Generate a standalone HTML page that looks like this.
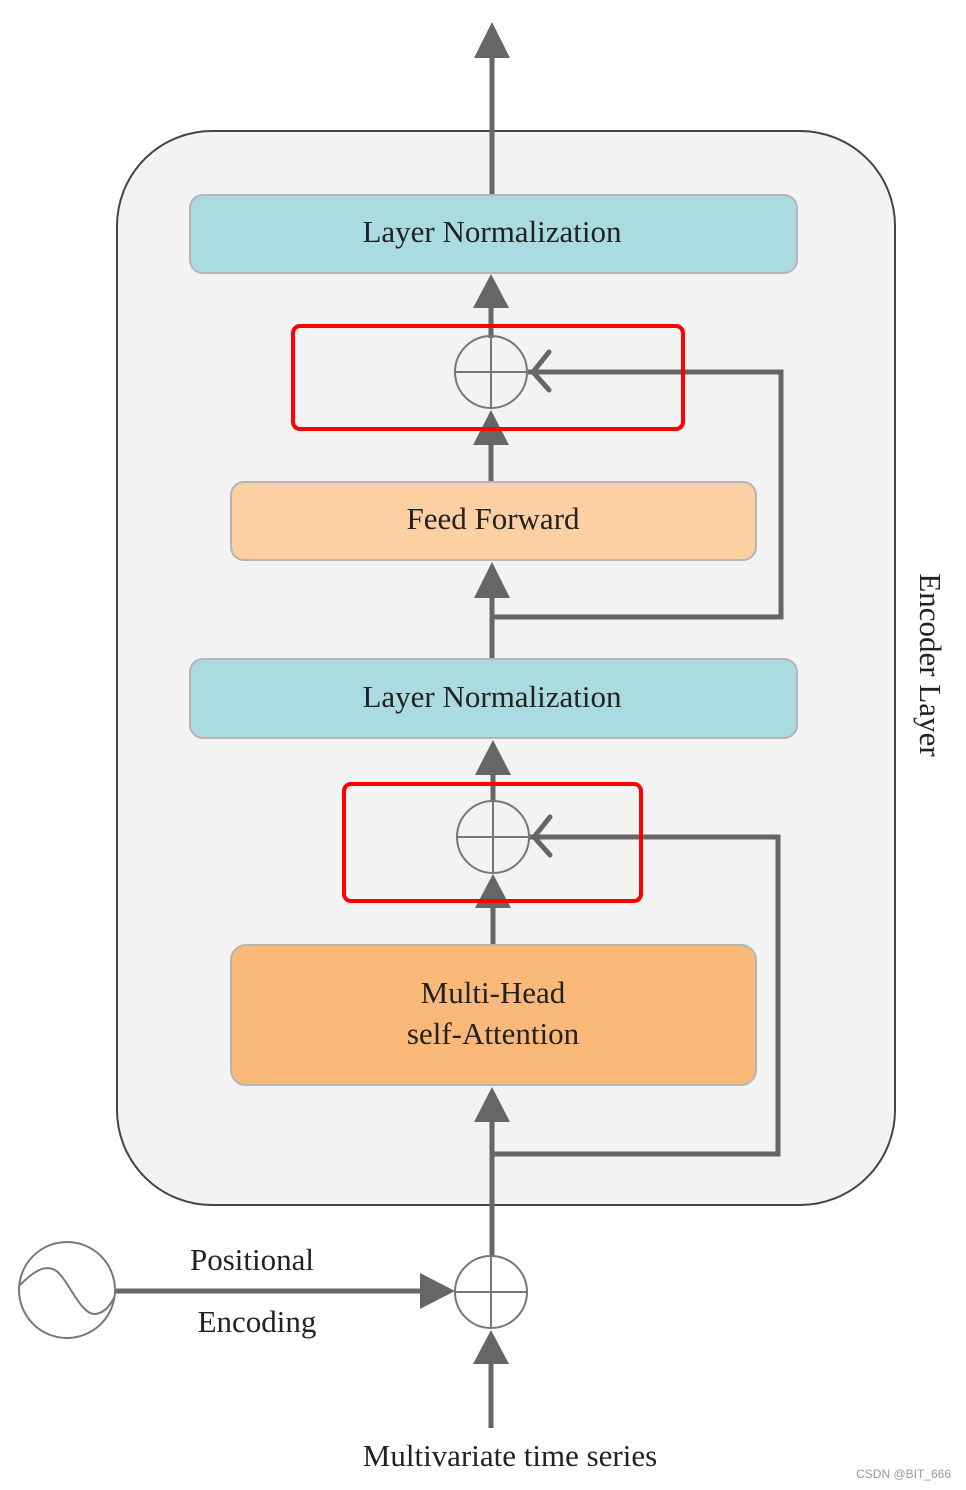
<!DOCTYPE html>
<html><head><meta charset="utf-8"><style>html,body{margin:0;padding:0;background:#fff}svg{display:block}</style></head>
<body>
<svg width="966" height="1490" viewBox="0 0 966 1490" xmlns="http://www.w3.org/2000/svg" font-family="Liberation Serif, serif">
<rect width="966" height="1490" fill="#fff"/>
<rect x="117" y="131" width="778" height="1074" rx="95" fill="#f3f3f3" stroke="#444" stroke-width="2"/>
<g stroke="#666" stroke-width="5" fill="none">
<line x1="492" y1="195" x2="492" y2="55"/>
<line x1="491" y1="338" x2="491" y2="300"/>
<line x1="491" y1="482" x2="491" y2="440"/>
<polyline points="528,372 781,372 781,617 492,617"/>
<line x1="492" y1="659" x2="492" y2="590"/>
<line x1="493" y1="801" x2="493" y2="770"/>
<line x1="493" y1="945" x2="493" y2="900"/>
<polyline points="529,837 778,837 778,1154 492,1154"/>
<line x1="492" y1="1256" x2="492" y2="1115"/>
<line x1="491" y1="1428" x2="491" y2="1360"/>
<line x1="115" y1="1291" x2="425" y2="1291"/>
<polyline points="549,352 533,372 549,390" stroke-linecap="round"/>
<polyline points="550,817 534,837 550,855" stroke-linecap="round"/>
</g>
<g fill="#666">
<polygon points="492,22 474,58 510,58"/>
<polygon points="491,274 473,308 509,308"/>
<polygon points="491,410 473,445 509,445"/>
<polygon points="492,562 474,598 510,598"/>
<polygon points="493,740 475,775 511,775"/>
<polygon points="493,874 475,908 511,908"/>
<polygon points="492,1087 474,1122 510,1122"/>
<polygon points="491,1330 473,1364 509,1364"/>
<polygon points="455,1291 420,1273 420,1309"/>
</g>
<rect x="190" y="195" width="607" height="78" rx="13" fill="#a9dbe0" stroke="#b5b5b5" stroke-width="2"/>
<rect x="231" y="482" width="525" height="78" rx="13" fill="#fdd0a4" stroke="#b5b5b5" stroke-width="2"/>
<rect x="190" y="659" width="607" height="79" rx="13" fill="#a9dbe0" stroke="#b5b5b5" stroke-width="2"/>
<rect x="231" y="945" width="525" height="140" rx="15" fill="#fbb979" stroke="#b5b5b5" stroke-width="2"/>
<g fill="none" stroke="#777" stroke-width="2">
<circle cx="491" cy="372" r="36"/><line x1="455" y1="372" x2="527" y2="372"/><line x1="491" y1="336" x2="491" y2="408"/>
<circle cx="493" cy="837" r="36"/><line x1="457" y1="837" x2="529" y2="837"/><line x1="493" y1="801" x2="493" y2="873"/>
<circle cx="491" cy="1292" r="36"/><line x1="455" y1="1292" x2="527" y2="1292"/><line x1="491" y1="1256" x2="491" y2="1328"/>
<circle cx="67" cy="1290" r="48"/>
<path d="M20,1285 C35,1270 45,1265 55,1270 C68,1278 80,1315 95,1314 C105,1313 110,1305 114,1298"/>
</g>
<g fill="#222" font-size="31" text-anchor="middle">
<text x="492" y="242">Layer Normalization</text>
<text x="493" y="529">Feed Forward</text>
<text x="492" y="707">Layer Normalization</text>
<text x="493" y="1003">Multi-Head</text>
<text x="493" y="1044">self-Attention</text>
<text x="252" y="1270">Positional</text>
<text x="257" y="1332">Encoding</text>
<text x="510" y="1466">Multivariate time series</text>
<text transform="translate(920,665) rotate(90)">Encoder Layer</text>
</g>
<g fill="none" stroke="#f00" stroke-width="4">
<rect x="293" y="326" width="390" height="103" rx="7"/>
<rect x="344" y="784" width="297" height="117" rx="7"/>
</g>
<text x="951" y="1478" font-family="Liberation Sans, sans-serif" font-size="12" fill="#999" text-anchor="end">CSDN @BIT_666</text>
</svg>
</body></html>
